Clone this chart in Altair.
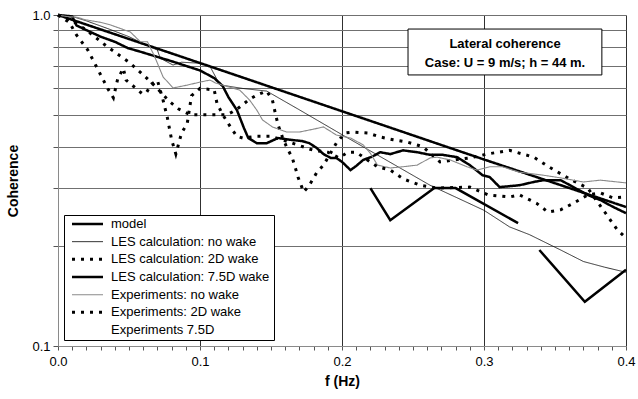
import json
import altair as alt
import pandas as pd

FONT = "Liberation Sans"

# ---------------- data ----------------
SERIES = ["model", "LES calculation: no wake", "LES calculation: 2D wake",
          "LES calculation:  7.5D wake", "Experiments: no wake",
          "Experiments: 2D wake", "Experiments 7.5D"]

model_f = [0.0, 0.1, 0.2, 0.3, 0.4]
model_v = [1.0, 0.716, 0.512, 0.366, 0.263]

les_nowake_f = [0.0, 0.01, 0.02, 0.035, 0.05, 0.065, 0.07, 0.072, 0.081, 0.087, 0.1, 0.107,
                0.114, 0.13, 0.147, 0.17, 0.2, 0.23, 0.262, 0.3, 0.318, 0.332, 0.354, 0.37,
                0.385, 0.4]
les_nowake_v = [1.0, 0.99, 0.96, 0.91, 0.86, 0.8, 0.784, 0.74, 0.706, 0.72, 0.715, 0.7,
                0.615, 0.6, 0.589, 0.517, 0.435, 0.367, 0.306, 0.257, 0.229, 0.217, 0.195,
                0.18, 0.173, 0.167]

les_2d_f = [0.0, 0.01, 0.02, 0.035, 0.05, 0.06, 0.07, 0.078, 0.085, 0.093, 0.115, 0.119,
            0.123, 0.128, 0.134, 0.14, 0.147, 0.151, 0.153, 0.155, 0.158, 0.161, 0.165,
            0.167, 0.169, 0.173, 0.177, 0.182, 0.187, 0.192, 0.196, 0.202, 0.208, 0.218,
            0.227, 0.236, 0.246, 0.257, 0.269, 0.29, 0.302, 0.318, 0.335, 0.346, 0.36,
            0.373, 0.385, 0.394, 0.4]
les_2d_v = [1.0, 0.96, 0.9, 0.8, 0.72, 0.66, 0.6, 0.55, 0.52, 0.5, 0.5, 0.5,
            0.51, 0.527, 0.553, 0.573, 0.589, 0.553, 0.506, 0.465, 0.428, 0.399, 0.37,
            0.347, 0.324, 0.292, 0.306, 0.333, 0.352, 0.383, 0.41, 0.44, 0.443, 0.44,
            0.428, 0.42, 0.413, 0.4, 0.36, 0.37, 0.38, 0.39, 0.372, 0.347, 0.32,
            0.3, 0.254, 0.224, 0.212]

les_75d_f = [0.0, 0.01, 0.013, 0.02, 0.03, 0.04, 0.049, 0.06, 0.08, 0.1, 0.11, 0.116, 0.12,
             0.126, 0.131, 0.134, 0.14, 0.147, 0.155, 0.163, 0.172, 0.177, 0.182, 0.187,
             0.192, 0.196, 0.2, 0.206, 0.21, 0.215, 0.221, 0.227, 0.234, 0.243, 0.253,
             0.262, 0.271, 0.281, 0.29, 0.299, 0.304, 0.311, 0.318, 0.325, 0.335, 0.342,
             0.354, 0.363, 0.373, 0.382, 0.391, 0.4]
les_75d_v = [1.0, 0.99, 0.93, 0.9, 0.86, 0.83, 0.795, 0.77, 0.725, 0.68, 0.645, 0.61, 0.565,
             0.516, 0.455, 0.425, 0.41, 0.41, 0.425, 0.42, 0.416, 0.41, 0.397, 0.38,
             0.37, 0.37, 0.36, 0.34, 0.35, 0.365, 0.373, 0.385, 0.38, 0.39, 0.385,
             0.378, 0.378, 0.372, 0.352, 0.328, 0.324, 0.302, 0.304, 0.306, 0.313, 0.317,
             0.317, 0.302, 0.286, 0.276, 0.263, 0.252]

exp_nowake_f = [0.0, 0.006, 0.013, 0.02, 0.03, 0.037, 0.051, 0.058, 0.063, 0.068, 0.074,
                0.081, 0.091, 0.1, 0.107, 0.111, 0.128, 0.135, 0.14, 0.144, 0.151, 0.161,
                0.17, 0.18, 0.187, 0.196, 0.206, 0.215, 0.22, 0.225, 0.234, 0.243, 0.253,
                0.262, 0.267, 0.276, 0.288, 0.295, 0.304, 0.313, 0.325, 0.342, 0.354, 0.37,
                0.382, 0.4]
exp_nowake_v = [1.0, 0.99, 0.985, 0.966, 0.95, 0.933, 0.888, 0.83, 0.83, 0.75, 0.65,
                0.602, 0.614, 0.627, 0.636, 0.623, 0.593, 0.553, 0.516, 0.482, 0.459, 0.443,
                0.443, 0.452, 0.459, 0.434, 0.425, 0.405, 0.382, 0.352, 0.345, 0.348, 0.352,
                0.37, 0.372, 0.365, 0.348, 0.34, 0.348, 0.348, 0.335, 0.328, 0.322, 0.313,
                0.317, 0.311]

exp_2d_f = [0.0, 0.008, 0.013, 0.021, 0.03, 0.035, 0.039, 0.042, 0.046, 0.048, 0.055, 0.059,
            0.062, 0.066, 0.07, 0.074, 0.077, 0.08, 0.083, 0.087, 0.091, 0.094, 0.1, 0.11,
            0.112, 0.116, 0.122, 0.126, 0.13, 0.14, 0.15, 0.165, 0.18, 0.19, 0.198, 0.204,
            0.21, 0.215, 0.225, 0.234, 0.243, 0.255, 0.267, 0.29, 0.303, 0.318, 0.325,
            0.337, 0.345, 0.354, 0.363, 0.373, 0.382, 0.391, 0.4]
exp_2d_v = [1.0, 0.95, 0.87, 0.784, 0.66, 0.6, 0.562, 0.64, 0.69, 0.635, 0.6, 0.58,
            0.58, 0.62, 0.635, 0.553, 0.49, 0.42, 0.38, 0.44, 0.47, 0.57, 0.6, 0.594,
            0.54, 0.5, 0.455, 0.43, 0.425, 0.43, 0.43, 0.41, 0.39, 0.385, 0.37, 0.385,
            0.385, 0.372, 0.348, 0.34, 0.32, 0.306, 0.3, 0.302, 0.286, 0.282, 0.286,
            0.27, 0.254, 0.258, 0.27, 0.286, 0.29, 0.28, 0.282]

# thick broken segments in the lower right (not listed in the legend)
zig_seg = ["a", "a", "a", "a", "a", "b", "b", "b"]
zig_f = [0.22, 0.234, 0.265, 0.28, 0.324, 0.339, 0.371, 0.4]
zig_v = [0.30, 0.24, 0.30, 0.30, 0.235, 0.195, 0.136, 0.17]

x_ticks = [round(i * 0.01, 2) for i in range(41)]
y_ticks = [0.1, 0.2, 0.3, 0.4, 0.5, 0.6, 0.7, 0.8, 0.9, 1.0]

box_title = ["Lateral coherence", "Case: U = 9 m/s; h = 44 m."]

# ---------------- styles ----------------
COLORS = ["#000000", "#000000", "#000000", "#000000", "#8a8a8a", "#000000", "#ffffff"]
WIDTHS = [2.5, 0.8, 3.0, 2.5, 1.1, 3.0, 2.0]
DASHES = [[1, 0], [1, 0], [3, 6], [1, 0], [1, 0], [3, 6], [1, 0]]

rows = []
for name, fs, vs in [(SERIES[0], model_f, model_v), (SERIES[1], les_nowake_f, les_nowake_v),
                     (SERIES[2], les_2d_f, les_2d_v), (SERIES[3], les_75d_f, les_75d_v),
                     (SERIES[4], exp_nowake_f, exp_nowake_v), (SERIES[5], exp_2d_f, exp_2d_v)]:
    for f, v in zip(fs, vs):
        rows.append({"series": name, "f": f, "v": v})
df = pd.DataFrame(rows)
zig = pd.DataFrame({"seg": zig_seg, "f": zig_f, "v": zig_v})

xscale = alt.Scale(domain=[0, 0.4], nice=False, zero=False)
yscale = alt.Scale(type="log", domain=[0.1, 1.0], nice=False)

major = "abs(datum.value*10 - round(datum.value*10)) < 0.001"
x_axis = alt.Axis(
    values=x_ticks, labelOverlap=False, labelFlush=False,
    labelExpr=f"{major} ? format(datum.value, '.1f') : ''",
    grid=True, gridColor="#303030", gridWidth=1,
    gridOpacity={"condition": {"test": f"datum.value > 0.001 && {major}", "value": 1}, "value": 0},
    tickSize=4, tickColor="#555555", domainColor="#8a8a8a",
    labelFont=FONT, labelFontSize=13, labelColor="#000", labelPadding=5,
    title="f (Hz)", titleFont=FONT, titleFontSize=14, titleFontWeight="bold",
    titleColor="#000", titlePadding=6)
y_axis = alt.Axis(
    values=y_ticks, labelOverlap=False,
    labelExpr="datum.value == 1 ? '1.0' : (datum.value == 0.1 ? '0.1' : '')",
    grid=True, gridColor="#707070", gridWidth=1,
    tickSize=5, tickColor="#555555", domainColor="#8a8a8a",
    labelFont=FONT, labelFontSize=13, labelColor="#000", labelPadding=3,
    title="Coherence", titleFont=FONT, titleFontSize=14, titleFontWeight="bold",
    titleColor="#000", titlePadding=11)


def X():
    return alt.X("f:Q", scale=xscale, axis=x_axis)


def Y():
    return alt.Y("v:Q", scale=yscale, axis=y_axis)


sw_legend_expr = f"isValid(datum) && isValid(datum.index) ? {json.dumps(WIDTHS)}[datum.index] : 2"
legend = alt.Legend(
    title=None, orient="none", legendX=6, legendY=200, fillColor="white",
    strokeColor="#000", padding=1, symbolType="stroke", symbolSize=961,
    clipHeight=16, rowPadding=1.67, symbolOffset=16, labelOffset=17,
    labelFont=FONT, labelFontSize=13, labelColor="#000", labelLimit=400,
    symbolStrokeWidth={"expr": sw_legend_expr})

sw_cond = {"condition": [{"test": f"datum.series === '{SERIES[i]}'", "value": WIDTHS[i]}
                         for i in range(len(SERIES))], "value": 2}

lines = alt.Chart(df).mark_line(strokeJoin="miter", strokeCap="butt").encode(
    x=X(), y=Y(),
    color=alt.Color("series:N", scale=alt.Scale(domain=SERIES, range=COLORS), legend=legend),
    strokeDash=alt.StrokeDash("series:N", scale=alt.Scale(domain=SERIES, range=DASHES), legend=legend),
    strokeWidth=sw_cond,
)

zigzag = alt.Chart(zig).mark_line(color="#000", strokeWidth=2.5).encode(
    x=X(), y=Y(), detail="seg:N")

box = pd.DataFrame({"f": [0.2465], "f2": [0.383], "v": [0.907], "v2": [0.659]})
box_rect = alt.Chart(box).mark_rect(fill="white", stroke="#000", strokeWidth=1).encode(
    x=X(), x2="f2:Q", y=Y(), y2="v2:Q")

box_text = pd.DataFrame({"f": [0.3148, 0.3148], "v": [0.817, 0.716], "label": box_title})
box_lbl = alt.Chart(box_text).mark_text(font=FONT, fontSize=13, fontWeight="bold",
                                         color="#000", align="center", baseline="middle").encode(
    x=X(), y=Y(), text="label:N")

chart = alt.layer(lines, zigzag, box_rect, box_lbl).properties(
    width=568, height=331,
    autosize=alt.AutoSizeParams(type="none"),
    padding={"left": 58, "top": 15, "right": 12, "bottom": 53},
).configure_view(stroke=None).configure(background="white")

chart.save("out.html", embed_options={"renderer": "svg", "actions": False})
